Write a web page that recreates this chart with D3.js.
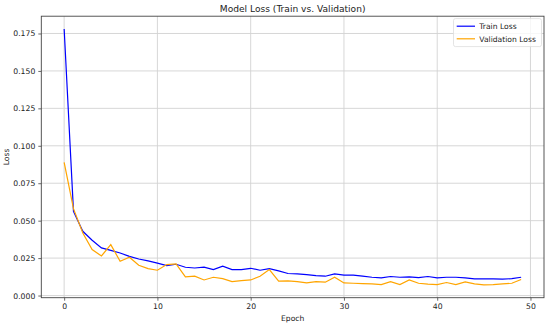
<!DOCTYPE html>
<html>
<head>
<meta charset="utf-8">
<script src="https://cdn.jsdelivr.net/npm/d3@7"></script>
<style>
  body { margin: 0; background: #fff; }
  svg text { font-family: "DejaVu Sans", sans-serif; fill: #222; }
</style>
</head>
<body>
<div id="chart"></div>
<script>
// values
const epochs = d3.range(0, 50);
const trainLoss = [
  0.178, 0.0562, 0.0429, 0.0369, 0.0318, 0.0302, 0.0284, 0.0262, 0.0244, 0.0231,
  0.0216, 0.0200, 0.0209, 0.0189, 0.0184, 0.0190, 0.0173, 0.0196, 0.0173, 0.0173,
  0.0182, 0.0169, 0.0180, 0.0165, 0.0147, 0.0145, 0.0140, 0.0133, 0.0129, 0.0144,
  0.0136, 0.0136, 0.0129, 0.0122, 0.0118, 0.0127, 0.0122, 0.0124, 0.0120, 0.0127,
  0.0118, 0.0122, 0.0122, 0.0118, 0.0111, 0.0111, 0.0111, 0.0109, 0.0113, 0.0122
];
const valLoss = [
  0.089, 0.0580, 0.0418, 0.0307, 0.0264, 0.0340, 0.0229, 0.0256, 0.0202, 0.0180,
  0.0169, 0.0207, 0.0211, 0.0124, 0.0129, 0.0104, 0.0122, 0.0113, 0.0093, 0.0100,
  0.0104, 0.0129, 0.0173, 0.0096, 0.0098, 0.0093, 0.0084, 0.0093, 0.0089, 0.0122,
  0.0084, 0.0082, 0.0080, 0.0078, 0.0073, 0.0093, 0.0073, 0.0104, 0.0082, 0.0076,
  0.0073, 0.0087, 0.0073, 0.0091, 0.0078, 0.0071, 0.0073, 0.0078, 0.0082, 0.0107
];
const xTicks = [0, 10, 20, 30, 40, 50];
const yTicks = [0, 0.025, 0.05, 0.075, 0.1, 0.125, 0.15, 0.175];
const seriesNames = ["Train Loss", "Validation Loss"];

const colors = { train: "#0000ff", val: "#ffa500", grid: "#d3d3d3", spine: "#444" };
const width = 550, height = 326;
const margin = { top: 16.2, right: 6, bottom: 28.3, left: 41.3 };
const innerW = width - margin.left - margin.right;
const innerH = height - margin.top - margin.bottom;

const svg = d3.select("#chart").append("svg")
  .attr("width", width).attr("height", height);

// matplotlib-like 5% margins around the data
const xPad = (d3.max(epochs) - d3.min(epochs)) * 0.05;
const allVals = trainLoss.concat(valLoss);
const yMin = d3.min(allVals), yMax = d3.max(allVals);
const yPad = (yMax - yMin) * 0.05;

const x = d3.scaleLinear()
  .domain([d3.min(epochs) - xPad, d3.max(epochs) + xPad])
  .range([0, innerW]);
const y = d3.scaleLinear()
  .domain([yMin - yPad, yMax + yPad])
  .range([innerH, 0]);

const g = svg.append("g").attr("transform", `translate(${margin.left},${margin.top})`);

// grid
g.append("g").selectAll("line").data(xTicks.filter(t => x(t) <= innerW)).enter().append("line")
  .attr("x1", d => x(d)).attr("x2", d => x(d))
  .attr("y1", 0).attr("y2", innerH)
  .attr("stroke", colors.grid).attr("stroke-width", 0.9);
g.append("g").selectAll("line").data(yTicks).enter().append("line")
  .attr("x1", 0).attr("x2", innerW)
  .attr("y1", d => y(d)).attr("y2", d => y(d))
  .attr("stroke", colors.grid).attr("stroke-width", 0.9);

// axes
const xAxis = g.append("g").attr("transform", `translate(0,${innerH})`)
  .call(d3.axisBottom(x).tickValues(xTicks).tickFormat(d3.format("d")).tickSize(3).tickPadding(3));
const yAxis = g.append("g")
  .call(d3.axisLeft(y).tickValues(yTicks).tickFormat(d3.format(".3f")).tickSize(3).tickPadding(3));
[xAxis, yAxis].forEach(a => {
  a.select(".domain").remove();
  a.selectAll(".tick line").attr("stroke", colors.spine).attr("stroke-width", 0.8);
  a.selectAll(".tick text").style("font-size", "7.7px").attr("fill", "#222");
});

// frame
g.append("rect").attr("x", 0).attr("y", 0).attr("width", innerW).attr("height", innerH)
  .attr("fill", "none").attr("stroke", colors.spine).attr("stroke-width", 0.9);

// lines
const line = d3.line().x((d, i) => x(epochs[i])).y(d => y(d));
g.append("path").datum(trainLoss).attr("d", line)
  .attr("fill", "none").attr("stroke", colors.train).attr("stroke-width", 1.2);
g.append("path").datum(valLoss).attr("d", line)
  .attr("fill", "none").attr("stroke", colors.val).attr("stroke-width", 1.2);

// title and labels
svg.append("text").attr("x", margin.left + innerW / 2).attr("y", 12)
  .attr("text-anchor", "middle").style("font-size", "9.1px").text("Model Loss (Train vs. Validation)");
svg.append("text").attr("x", margin.left + innerW / 2).attr("y", 320.5)
  .attr("text-anchor", "middle").style("font-size", "7.6px").text("Epoch");
svg.append("text").attr("transform", `translate(9,${margin.top + innerH / 2}) rotate(-90)`)
  .attr("text-anchor", "middle").style("font-size", "7.6px").text("Loss");

// legend
const legend = svg.append("g").attr("transform", "translate(453.5,18.6)");
legend.append("rect").attr("width", 88).attr("height", 28).attr("rx", 2)
  .attr("fill", "#fff").attr("fill-opacity", 0.8).attr("stroke", "#ddd").attr("stroke-width", 0.8);
[colors.train, colors.val].forEach((c, i) => {
  const row = legend.append("g").attr("transform", `translate(0,${7.6 + i * 12.6})`);
  row.append("line").attr("x1", 3.2).attr("x2", 21.5).attr("stroke", c).attr("stroke-width", 1.2);
  row.append("text").attr("x", 25.8).attr("y", 2.7).style("font-size", "7.6px").text(seriesNames[i]);
});
</script>
</body>
</html>
